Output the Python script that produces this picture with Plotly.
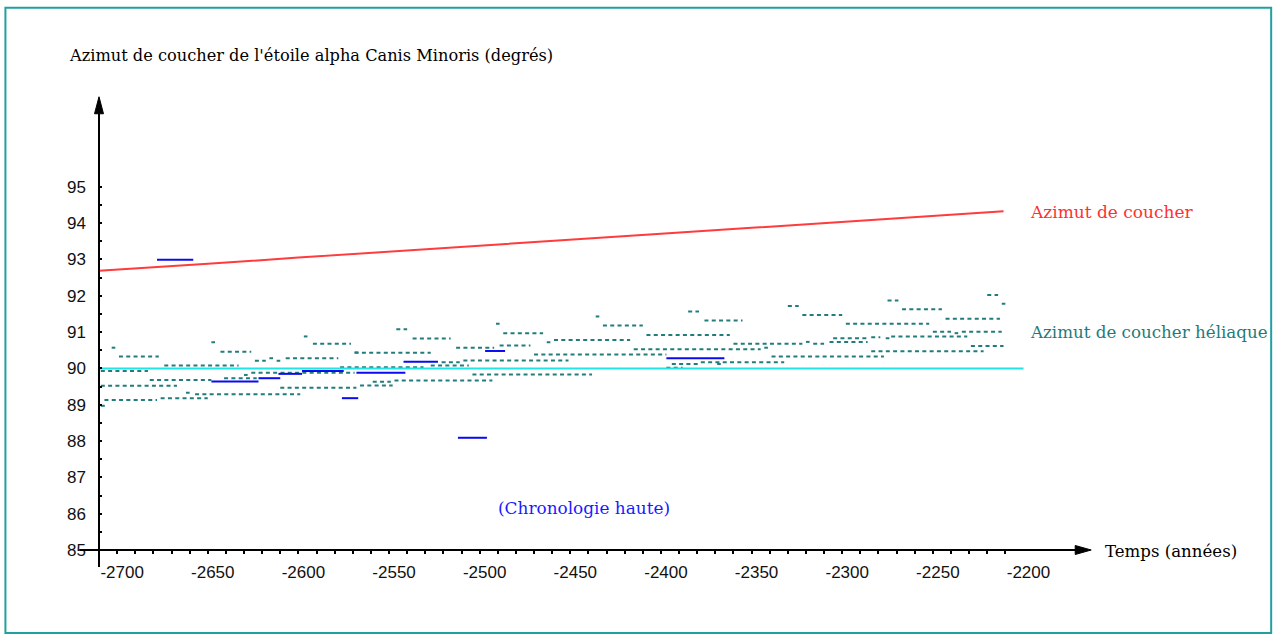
import plotly.graph_objects as go

# ---------------------------------------------------------------- data
# Setting azimuth of alpha Canis Minoris (degrees) against time (years)
red_years = [-2710, -2700, -2650, -2600, -2550, -2500, -2450, -2400,
             -2350, -2300, -2250, -2211]
red_azimuth = [92.69, 92.72, 92.88, 93.05, 93.22, 93.39, 93.55, 93.71,
               93.87, 94.03, 94.19, 94.33]

# Reference level at 90 degrees
ref_years = [-2710, -2200]
ref_azimuth = [90.0, 90.0]

# Heliacal setting azimuth: dotted runs (first year, last year, azimuth)
heli_start = [-2703, -2699, -2709, -2709, -2707, -2676, -2709, -2648, -2643,
              -2674, -2682, -2662, -2657, -2641, -2630, -2626, -2624, -2616,
              -2612, -2607, -2597, -2592, -2610, -2569, -2577, -2546, -2537,
              -2569, -2566, -2559, -2547, -2521, -2527, -2509, -2513, -2489,
              -2491, -2487, -2504, -2463, -2459, -2470, -2436, -2432, -2415,
              -2385, -2376, -2408, -2343, -2360, -2320, -2316, -2307, -2305,
              -2284, -2276, -2273, -2394, -2369, -2378, -2397, -2339, -2284,
              -2229, -2330, -2322, -2298, -2275, -2267, -2243, -2250, -2238,
              -2234, -2220, -2212]
heli_end = [-2701, -2677, -2683, -2667, -2678, -2650, -2705, -2646, -2626,
            -2633, -2648, -2660, -2599, -2623, -2628, -2569, -2618, -2614,
            -2610, -2578, -2595, -2571, -2568, -2567, -2531, -2540, -2516,
            -2527, -2548, -2549, -2493, -2511, -2506, -2451, -2492, -2472,
            -2489, -2465, -2438, -2461, -2417, -2397, -2434, -2410, -2345,
            -2379, -2355, -2362, -2341, -2322, -2318, -2310, -2286, -2286,
            -2279, -2274, -2231, -2379, -2367, -2332, -2388, -2277, -2222,
            -2211, -2324, -2300, -2252, -2269, -2245, -2213, -2240, -2236,
            -2212, -2214, -2210]
heli_azimuth = [90.57, 90.33, 89.93, 89.52, 89.13, 89.18, 88.97, 90.72, 90.46,
                90.08, 89.68, 89.33, 89.29, 89.73, 89.82, 89.88, 90.21, 90.28,
                90.21, 90.28, 90.88, 90.68, 89.47, 90.44, 90.03, 91.08, 90.82,
                90.43, 89.53, 89.63, 89.67, 90.17, 90.08, 90.22, 90.57, 90.63,
                91.23, 90.97, 89.83, 90.72, 90.78, 90.38, 91.43, 91.18, 90.53,
                91.57, 91.32, 90.92, 90.57, 90.68, 90.73, 90.68, 90.73, 90.83,
                90.86, 90.83, 90.88, 90.12, 90.12, 90.17, 90.02, 90.33, 90.47,
                90.62, 91.72, 91.47, 91.23, 91.87, 91.63, 91.37, 91.01, 90.97,
                91.01, 92.02, 91.78]

# Reign periods (high chronology): first year, last year, azimuth
reign_start = [-2678, -2648, -2622, -2611, -2598, -2576, -2568, -2542, -2497,
               -2512, -2397]
reign_end = [-2658, -2622, -2610, -2598, -2575, -2567, -2541, -2523, -2486,
             -2496, -2365]
reign_azimuth = [92.99, 89.64, 89.73, 89.85, 89.93, 89.18, 89.88, 90.18, 90.48,
                 88.09, 90.28]

# Axis ticks
x_label_vals = list(range(-2700, -2199, 50))
x_minor_vals = list(range(-2700, -2209, 10))
y_label_vals = list(range(85, 96))
y_minor_vals = [85 + 0.5 * k for k in range(1, 21)]

# ---------------------------------------------------------------- layout geometry
W, H = 1275, 639
X_RANGE = [-2710, -2160]
Y_RANGE = [85, 97.5]
M_L, M_R, M_T, M_B = 98.6, 179.2, 96.25, 89
PW = W - M_L - M_R
PH = H - M_T - M_B


def px(xp):
    return (xp - M_L) / PW


def py(yp):
    return (H - M_B - yp) / PH


def segments(starts, ends, vals):
    xs, ys = [], []
    for a, b, v in zip(starts, ends, vals):
        xs += [a, b, None]
        ys += [v, v, None]
    return xs, ys


fig = go.Figure()

hx, hy = segments(heli_start, heli_end, heli_azimuth)
fig.add_trace(go.Scatter(x=hx, y=hy, mode="lines", connectgaps=False,
                         line=dict(color="#227c7c", width=2, dash="4px,3.3px"),
                         hoverinfo="skip"))

fig.add_trace(go.Scatter(x=ref_years, y=ref_azimuth, mode="lines",
                         line=dict(color="#22e4e4", width=2), hoverinfo="skip"))

fig.add_trace(go.Scatter(x=red_years, y=red_azimuth, mode="lines",
                         line=dict(color="#ff3b3b", width=2), hoverinfo="skip"))

bx, by = segments(reign_start, reign_end, reign_azimuth)
fig.add_trace(go.Scatter(x=bx, y=by, mode="lines", connectgaps=False,
                         line=dict(color="#0a0af0", width=2), hoverinfo="skip"))

tick_font = dict(family="Liberation Sans", size=17, color="#111111")
serif = "DejaVu Serif"

fig.update_layout(
    width=W, height=H, showlegend=False,
    paper_bgcolor="white", plot_bgcolor="white",
    margin=dict(l=M_L, r=M_R, t=M_T, b=M_B, pad=0),
    xaxis=dict(range=X_RANGE, showgrid=False, zeroline=False, showline=False,
               tickmode="array", tickvals=x_label_vals,
               ticktext=[str(v) for v in x_label_vals],
               ticks="", ticklabelshift=5, ticklabelstandoff=10,
               tickfont=tick_font,
               minor=dict(tickmode="array", tickvals=x_minor_vals,
                          ticks="outside", ticklen=3, tickwidth=2,
                          tickcolor="black", showgrid=False)),
    yaxis=dict(range=Y_RANGE, showgrid=False, zeroline=False, showline=False,
               tickmode="array", tickvals=y_label_vals,
               ticktext=[str(v) for v in y_label_vals],
               ticks="", ticklabelstandoff=12, tickfont=tick_font,
               minor=dict(tickmode="array", tickvals=y_minor_vals,
                          ticks="inside", ticklen=3, tickwidth=2,
                          tickcolor="black", showgrid=False)),
)

shapes = []
# outer frame
shapes.append(dict(type="rect", xref="paper", yref="paper",
                   x0=px(5), x1=px(1271), y0=py(633), y1=py(8),
                   line=dict(color="#22a0a0", width=2)))
# axes with arrow heads
AX_X, AX_Y = 98.6, 550
shapes.append(dict(type="line", xref="paper", yref="paper",
                   x0=px(79), x1=px(1080), y0=py(AX_Y), y1=py(AX_Y),
                   line=dict(color="black", width=2)))
shapes.append(dict(type="line", xref="paper", yref="paper",
                   x0=px(AX_X), x1=px(AX_X), y0=py(567), y1=py(112),
                   line=dict(color="black", width=2)))
shapes.append(dict(type="path", xref="paper", yref="paper",
                   path=f"M {px(1091)},{py(AX_Y)} L {px(1075)},{py(AX_Y - 4.5)} "
                        f"L {px(1075)},{py(AX_Y + 4.5)} Z",
                   fillcolor="black", line=dict(color="black", width=1)))
shapes.append(dict(type="path", xref="paper", yref="paper",
                   path=f"M {px(AX_X)},{py(97)} L {px(AX_X - 4.5)},{py(114)} "
                        f"L {px(AX_X + 4.5)},{py(114)} Z",
                   fillcolor="black", line=dict(color="black", width=1)))
fig.update_layout(shapes=shapes)

annotations = [
    dict(text="Azimut de coucher de l'étoile alpha Canis Minoris (degrés)",
         x=px(67), y=py(56), xanchor="left", yanchor="middle",
         font=dict(family=serif, size=16.2, color="black")),
    dict(text="Azimut de coucher", x=px(1028), y=py(212),
         xanchor="left", yanchor="middle",
         font=dict(family=serif, size=17, color="#ff3030")),
    dict(text="Azimut de coucher héliaque", x=px(1028), y=py(332),
         xanchor="left", yanchor="middle",
         font=dict(family=serif, size=16.7, color="#1f7b7b")),
    dict(text="Temps (années)", x=px(1103), y=py(551),
         xanchor="left", yanchor="middle",
         font=dict(family=serif, size=16.6, color="black")),
    dict(text="(Chronologie haute)", x=px(584), y=py(508),
         xanchor="center", yanchor="middle",
         font=dict(family=serif, size=16.9, color="#1a1aff")),
]
for a in annotations:
    a.update(xref="paper", yref="paper", showarrow=False)
fig.update_layout(annotations=annotations)

fig.write_html("out.html")
